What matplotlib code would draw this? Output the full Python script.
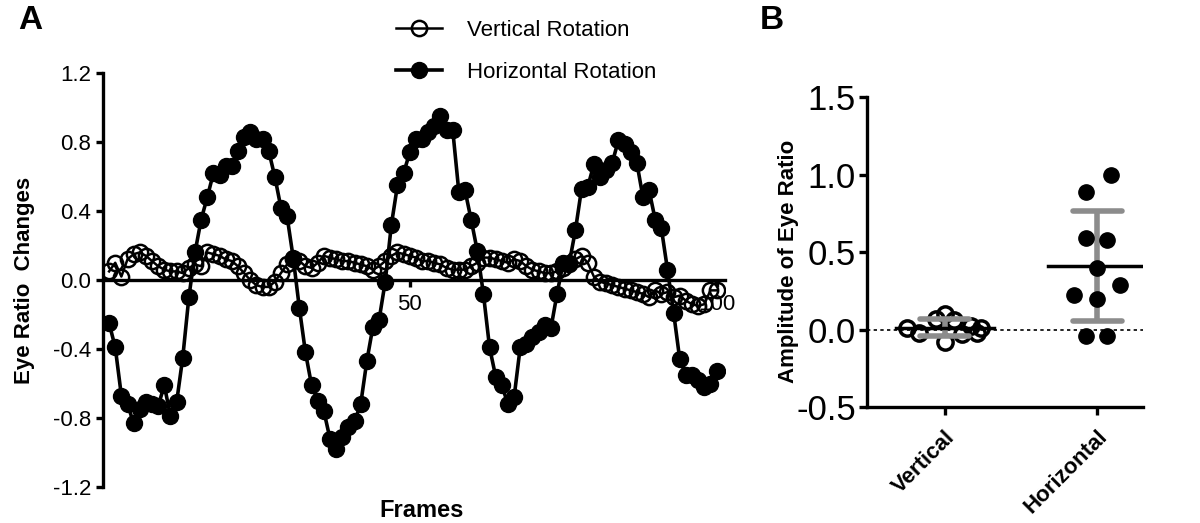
import numpy as np
import matplotlib
matplotlib.use("Agg")
import matplotlib.pyplot as plt

plt.rcParams['font.family'] = ['Liberation Sans', 'DejaVu Sans']

# Panel A: eye ratio changes per frame (frames 1..100)
horizontal_rot = [
    -0.25, -0.39, -0.67, -0.72, -0.83, -0.75, -0.71, -0.72, -0.73, -0.61,
    -0.79, -0.71, -0.45, -0.10, 0.16, 0.35, 0.48, 0.62, 0.61, 0.66,
    0.66, 0.75, 0.83, 0.86, 0.82, 0.82, 0.75, 0.60, 0.42, 0.37,
    0.13, -0.16, -0.42, -0.61, -0.70, -0.76, -0.92, -0.98, -0.91, -0.85,
    -0.82, -0.72, -0.47, -0.27, -0.23, -0.01, 0.32, 0.55, 0.62, 0.74,
    0.82, 0.82, 0.86, 0.89, 0.95, 0.87, 0.87, 0.51, 0.52, 0.35,
    0.17, -0.08, -0.39, -0.56, -0.61, -0.72, -0.68, -0.39, -0.37, -0.33,
    -0.30, -0.26, -0.28, -0.08, 0.10, 0.10, 0.29, 0.53, 0.54, 0.67,
    0.60, 0.64, 0.68, 0.81, 0.79, 0.74, 0.68, 0.48, 0.52, 0.35,
    0.30, 0.06, -0.19, -0.46, -0.55, -0.55, -0.58, -0.62, -0.60, -0.53,
]
vertical_rot = [
    0.05, 0.10, 0.02, 0.12, 0.15, 0.16, 0.14, 0.11, 0.08, 0.06,
    0.05, 0.05, 0.04, 0.07, 0.09, 0.08, 0.16, 0.15, 0.14, 0.12,
    0.11, 0.08, 0.04, 0.00, -0.03, -0.04, -0.04, -0.01, 0.04, 0.09,
    0.12, 0.11, 0.08, 0.07, 0.10, 0.14, 0.13, 0.12, 0.11, 0.11,
    0.10, 0.09, 0.08, 0.06, 0.08, 0.11, 0.14, 0.16, 0.15, 0.14,
    0.13, 0.11, 0.11, 0.10, 0.09, 0.07, 0.06, 0.06, 0.06, 0.08,
    0.10, 0.13, 0.13, 0.12, 0.11, 0.10, 0.12, 0.11, 0.08, 0.06,
    0.05, 0.04, 0.04, 0.05, 0.07, 0.09, 0.12, 0.14, 0.10, 0.02,
    -0.01, -0.02, -0.03, -0.04, -0.05, -0.06, -0.07, -0.08, -0.10, -0.06,
    -0.08, -0.07, -0.10, -0.09, -0.12, -0.14, -0.15, -0.14, -0.06, -0.06,
]
frames = np.arange(1, len(horizontal_rot) + 1)

# Panel B: amplitude per subject
groups = ["Vertical", "Horizontal"]
amp_vertical = [0.01, -0.02, 0.07, 0.10, -0.08, 0.06, -0.03, 0.02, -0.02, 0.01]
amp_horizontal = [1.00, 0.89, 0.59, 0.58, 0.40, 0.29, 0.22, 0.20, -0.04, -0.04]
# column-scatter spread (layout only)
spread_vertical = [-0.25, -0.17, -0.06, 0.0, 0.0, 0.06, 0.11, 0.17, 0.21, 0.24]
spread_horizontal = [0.087, -0.076, -0.076, 0.065, 0.0, 0.15, -0.15, 0.0, -0.076, 0.065]

fig = plt.figure(figsize=(12, 5.23), dpi=100)

# ---------- Panel A ----------
axA = fig.add_axes([0.0858, 0.0688, 0.518, 0.7916])
lv, = axA.plot(frames, vertical_rot, color='black', lw=1.8, marker='o', ms=11,
               mfc='none', mec='black', mew=1.8, label='Vertical Rotation', zorder=3)
lh, = axA.plot(frames, horizontal_rot, color='black', lw=2.6, marker='o', ms=11.5,
               mfc='black', mec='black', label='Horizontal Rotation', zorder=4)
axA.set_xlim(0, 101.3)
axA.set_ylim(-1.2, 1.2)
axA.spines['top'].set_visible(False)
axA.spines['right'].set_visible(False)
axA.spines['bottom'].set_position(('data', 0))
axA.spines['left'].set_position(('data', 0))
for s in ('left', 'bottom'):
    axA.spines[s].set_linewidth(2.4)
axA.set_yticks(np.arange(-1.2, 1.21, 0.4))
axA.set_yticklabels(['-1.2', '-0.8', '-0.4', '0.0', '0.4', '0.8', '1.2'])
axA.set_xticks([50, 100])
axA.set_xticklabels(['50', '100'])
axA.tick_params(axis='both', width=2.4, length=5, labelsize=16, direction='out')
axA.tick_params(axis='x', pad=5)
axA.set_ylabel('Eye Ratio  Changes', fontsize=16, fontweight='bold')
axA.yaxis.set_label_coords(-0.11, 0.5)
axA.set_xlabel('Frames', fontsize=17, fontweight='bold')
axA.xaxis.set_label_coords(0.513, -0.03)

fig.legend(handles=[lv, lh], loc='upper left', bbox_to_anchor=(0.313, 1.0),
           frameon=False, fontsize=16, numpoints=1, handlelength=2.1,
           handletextpad=1.1, labelspacing=0.95)

fig.text(0.015, 0.96, 'A', fontsize=24, fontweight='bold', va='center')
fig.text(0.633, 0.96, 'B', fontsize=24, fontweight='bold', va='center')

# ---------- Panel B ----------
axB = fig.add_axes([0.7225, 0.2218, 0.23, 0.5927])
axB.axhline(0, color='black', lw=1.2, ls=(0, (2, 2)), zorder=1)

xv = 0 + np.array(spread_vertical)
xh = 1 + np.array(spread_horizontal)
axB.plot(xv, amp_vertical, 'o', ms=11, mfc='none', mec='black', mew=2.5, zorder=2)
axB.plot(xh, amp_horizontal, 'o', ms=11, mfc='black', mec='black', zorder=4)

for i, vals in enumerate([amp_vertical, amp_horizontal]):
    m = np.mean(vals)
    sd = np.std(vals, ddof=1)
    axB.plot([i, i], [m - sd, m + sd], color='#8c8c8c', lw=4, zorder=3,
             solid_capstyle='butt')
    for y in (m - sd, m + sd):
        axB.plot([i - 0.16, i + 0.16], [y, y], color='#8c8c8c', lw=4, zorder=3,
                 solid_capstyle='round')
    axB.plot([i - 0.32, i + 0.32], [m, m], color='black', lw=2.5, zorder=5)

axB.set_xlim(-0.51, 1.3)
axB.set_ylim(-0.5, 1.5)
axB.spines['top'].set_visible(False)
axB.spines['right'].set_visible(False)
for s in ('left', 'bottom'):
    axB.spines[s].set_linewidth(2.4)
axB.set_yticks([-0.5, 0.0, 0.5, 1.0, 1.5])
axB.set_yticklabels(['-0.5', '0.0', '0.5', '1.0', '1.5'])
axB.set_xticks([0, 1])
axB.set_xticklabels(groups, rotation=45, ha='right', rotation_mode='anchor',
                    fontsize=16, fontweight='bold')
axB.tick_params(axis='y', width=2.4, length=6, labelsize=25, pad=2)
axB.tick_params(axis='x', width=2.4, length=6, pad=8)
axB.set_ylabel('Amplitude of Eye Ratio', fontsize=16, fontweight='bold')
axB.yaxis.set_label_coords(-0.245, 0.47)

fig.savefig('out.png', dpi=100)
